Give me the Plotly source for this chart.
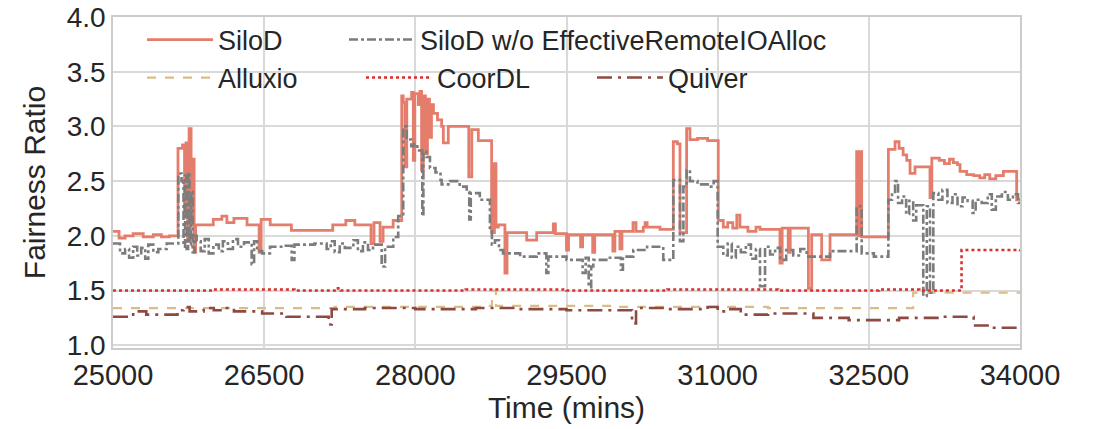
import plotly.graph_objects as go

# ---------------- data ----------------
silod_t = [25000, 25060, 25120, 25200, 25300, 25400, 25480, 25560,
           25645, 25690, 25710, 25725, 25740, 25755, 25775, 25790, 25805, 25820,
           25995, 26080, 26130, 26200, 26330, 26450, 26470, 26560, 26770, 27180, 27310, 27400,
           27560, 27590, 27650, 27680, 27780,
           27865, 27880, 27897, 27915, 27963, 27980, 27995, 28030, 28046, 28062, 28079, 28100,
           28120, 28140, 28160, 28180, 28220, 28261, 28278, 28327, 28530, 28560, 28625,
           28757, 28785, 28800, 28823, 28889, 28910, 29105, 29204, 29369, 29390, 29500, 29520,
           29640, 29660, 29760, 29780, 29960, 29980, 30030, 30050, 30160, 30190, 30262, 30280,
           30300, 30428,
           30560, 30600, 30626, 30692, 30725, 30800, 30900, 31006, 31056, 31100, 31150, 31190,
           31221, 31300, 31380, 31420, 31618, 31640, 31700, 31720, 31883, 31900, 31933, 32032,
           32115, 32379, 32395, 32410, 32429, 32694, 32760, 32800, 32840, 32876, 32909, 32958,
           33107, 33125, 33200, 33250, 33300, 33338, 33380, 33405, 33471, 33540, 33600, 33650,
           33700, 33760, 33835, 33967, 34000]
silod_v = [2.04, 1.98, 2.00, 2.02, 1.99, 2.01, 1.99, 2.00,
           2.80, 2.83, 2.20, 2.85, 1.95, 2.98, 2.10, 2.70, 1.85, 2.10,
           2.15, 2.18, 2.12, 2.16, 2.10, 1.85, 2.15, 2.10, 2.05, 2.10, 2.14, 2.10,
           1.93, 2.12, 1.95, 2.08, 2.14,
           3.28, 3.22, 2.63, 3.25, 3.31, 2.69, 3.30, 3.20, 3.32, 2.60, 3.28, 2.75,
           3.25, 2.90, 3.20, 3.12, 3.06, 3.00, 2.85, 3.00, 2.54, 2.97, 2.87,
           2.03, 2.66, 2.08, 2.10, 1.66, 2.03, 1.96, 2.03, 2.11, 2.02, 1.87, 2.01,
           1.90, 2.01, 1.85, 2.01, 1.86, 2.04, 1.88, 2.04, 2.12, 2.04, 2.08, 2.12,
           2.08, 2.06,
           2.86, 2.84, 2.03, 2.98, 2.88, 2.89, 2.87, 2.14, 2.08, 2.12, 2.07, 2.19,
           2.08, 2.04, 2.08, 2.06, 1.75, 2.07, 1.85, 2.07, 2.07, 1.52, 2.01, 1.78,
           2.01, 2.77, 2.00, 2.77, 1.99, 2.79, 2.86, 2.80, 2.74, 2.69, 2.57, 2.63,
           2.35, 2.71, 2.69, 2.66, 2.70, 2.67, 2.65, 2.59, 2.56, 2.55, 2.53, 2.56,
           2.52, 2.55, 2.59, 2.33, 2.33]

noalloc_t = [25000, 25070, 25120, 25160, 25200, 25240, 25280, 25320, 25350, 25400, 25450, 25533,
             25648, 25680, 25700, 25715, 25730, 25745, 25760, 25775, 25790, 25810, 25830, 25870,
             25910, 25950, 25996, 26050, 26090, 26140, 26190, 26240, 26300, 26376, 26400, 26430,
             26480, 26558, 26700, 26773, 26800, 27000, 27120, 27160, 27200, 27250, 27300, 27385,
             27430, 27480, 27530, 27580, 27666, 27700,
             27781, 27830, 27880, 27914, 27960, 27990, 28020, 28069, 28080, 28110, 28145, 28200,
             28250, 28261, 28344, 28440, 28510, 28535, 28550, 28640, 28740, 28760, 28790, 28830,
             28870, 29040, 29204, 29300, 29320, 29500, 29660, 29690, 29720, 29745, 29766, 29930,
             30040, 30060, 30163, 30300, 30460,
             30560, 30626, 30660, 30692, 30725, 30800, 30900, 30960, 31000, 31056, 31100, 31140,
             31180, 31230, 31280, 31330, 31380, 31420, 31470, 31520, 31570, 31620, 31680, 31750,
             31820, 31883, 32115, 32379, 32429, 32550, 32694, 32730, 32760, 32790, 32830, 32870,
             32900, 32940, 32970, 33040, 33075, 33107, 33140, 33190, 33230, 33280, 33330, 33380,
             33430, 33480, 33530, 33560, 33620, 33680, 33720, 33760, 33820, 33880, 33930, 33980,
             34000]
noalloc_v = [1.93, 1.84, 1.88, 1.80, 1.90, 1.82, 1.89, 1.79, 1.92, 1.85, 1.88, 1.93,
             2.57, 2.50, 1.90, 2.55, 1.88, 2.58, 1.92, 2.40, 1.85, 2.00, 1.95, 1.86,
             1.97, 1.84, 1.92, 1.86, 1.95, 1.88, 1.97, 1.90, 1.94, 1.74, 1.95, 1.86,
             1.84, 1.90, 1.91, 1.78, 1.92, 1.93, 1.88, 1.95, 1.85, 1.93, 1.89, 1.96,
             1.86, 1.94, 1.87, 1.92, 1.72, 1.90,
             1.99, 2.18, 3.00, 2.88, 2.82, 2.84, 2.78, 2.18, 2.77, 2.72, 2.62, 2.58,
             2.51, 2.47, 2.50, 2.45, 2.40, 2.15, 2.39, 2.33, 2.06, 1.92, 1.96, 1.87,
             1.84, 1.81, 1.84, 1.66, 1.81, 1.78, 1.66, 1.80, 1.53, 1.72, 1.78, 1.80,
             1.69, 1.81, 1.87, 1.90, 1.78,
             2.51, 1.95, 2.45, 2.60, 2.50, 2.47, 2.45, 2.50, 1.90, 1.82, 1.93, 1.80,
             1.90, 1.85, 1.92, 1.79, 1.88, 1.54, 1.90, 1.83, 1.89, 1.78, 1.87, 1.82,
             1.88, 1.81, 1.86, 2.27, 1.84, 1.81, 2.33, 2.40, 2.50, 2.30, 2.36, 2.20,
             2.32, 2.14, 2.28, 1.45, 2.27, 1.48, 2.39, 2.33, 2.42, 2.30, 2.38, 2.27,
             2.35, 2.32, 2.21, 2.33, 2.30, 2.38, 2.24, 2.36, 2.40, 2.33, 2.38, 2.30,
             2.30]

alluxio_t = [25000, 26000, 27200, 28700, 28760, 28800, 30000, 31500, 32940, 34000]
alluxio_v = [1.34, 1.34, 1.35, 1.36, 1.50, 1.36, 1.35, 1.34, 1.48, 1.49]

coordl_t = [25000, 26000, 26800, 27200, 27260, 28500, 29500, 30500, 31600, 32600, 33000, 33420, 34000]
coordl_v = [1.50, 1.51, 1.50, 1.52, 1.50, 1.51, 1.50, 1.51, 1.50, 1.51, 1.50, 1.87, 1.86]

quiver_t = [25000, 25200, 25330, 25640, 25700, 25760, 25900, 26000, 26100, 26200, 26480, 26720,
            27140, 27170, 27500, 28000, 28600, 29000, 29500, 30150, 30190, 30500, 30900, 31000,
            31100, 31229, 31500, 31950, 32300, 32800, 33200, 33540, 33700, 34000]
quiver_v = [1.26, 1.31, 1.28, 1.32, 1.35, 1.31, 1.34, 1.32, 1.34, 1.31, 1.29, 1.26,
            1.19, 1.33, 1.34, 1.33, 1.34, 1.33, 1.32, 1.20, 1.34, 1.33, 1.35, 1.31,
            1.33, 1.28, 1.29, 1.25, 1.23, 1.25, 1.26, 1.18, 1.16, 1.17]

x_ticks = [25000, 26500, 28000, 29500, 31000, 32500, 34000]
x_ticktext = ["25000", "26500", "28000", "29500", "31000", "32500", "34000"]
y_ticks = [1.0, 1.5, 2.0, 2.5, 3.0, 3.5, 4.0]
y_ticktext = ["1.0", "1.5", "2.0", "2.5", "3.0", "3.5", "4.0"]

# ---------------- figure ----------------
FONT = "Liberation Sans, Arial, sans-serif"
TXT = "#262626"

fig = go.Figure()
series = [
    ("SiloD", silod_t, silod_v, "#e47d6b", "solid", 2.8, "legend"),
    ("Alluxio", alluxio_t, alluxio_v, "#dcbc86", "dash", 2.2, "legend3"),
    ("SiloD w/o EffectiveRemoteIOAlloc", noalloc_t, noalloc_v, "#7c7c7c", "dashdot", 2.6, "legend2"),
    ("CoorDL", coordl_t, coordl_v, "#dc2e2a", "dot", 2.6, "legend4"),
    ("Quiver", quiver_t, quiver_v, "#8e4a42", "longdashdot", 2.6, "legend5"),
]
for name, t, v, col, dash, w, lg in series:
    fig.add_trace(go.Scatter(x=t, y=v, mode="lines", name=name, legend=lg, showlegend=True,
                             line=dict(color=col, dash=dash, width=w, shape="hv")))

W, H = 1097, 429
PL, PR, PT, PB = 113, 1020, 17, 348
def leg(px, py):
    return dict(x=(px - PL) / (PR - PL), y=(PB - py) / (PB - PT), xref="paper", yref="paper",
                xanchor="left", yanchor="middle", bgcolor="rgba(0,0,0,0)",
                font=dict(family=FONT, size=27, color=TXT), itemwidth=66,
                borderwidth=0)

fig.update_layout(
    width=W, height=H,
    showlegend=True,
    margin=dict(l=PL, r=W - PR, t=PT, b=H - PB, autoexpand=False),
    plot_bgcolor="white", paper_bgcolor="white",
    font=dict(family=FONT, color=TXT),
    legend=leg(142, 40),
    legend2=leg(344, 40),
    legend3=leg(142, 78),
    legend4=leg(361, 78),
    legend5=leg(592, 78),
    xaxis=dict(range=[25000, 34000], tickvals=x_ticks, ticktext=x_ticktext, ticks="",
               tickfont=dict(size=29, family=FONT, color=TXT),
               showgrid=True, gridcolor="#d9d9d9", gridwidth=1.5,
               showline=True, linecolor="#cccccc", linewidth=1.5, mirror=True,
               zeroline=False,
               title=dict(text="Time (mins)", font=dict(size=30, family=FONT, color=TXT), standoff=6)),
    yaxis=dict(range=[0.975, 4.0], tickvals=y_ticks, ticktext=y_ticktext, ticks="",
               tickfont=dict(size=28, family=FONT, color=TXT),
               showgrid=True, gridcolor="#d9d9d9", gridwidth=1.5,
               showline=True, linecolor="#cccccc", linewidth=1.5, mirror=True,
               zeroline=False,
               title=dict(text="Fairness Ratio", font=dict(size=30, family=FONT, color=TXT), standoff=12)),
)

fig.write_html("out.html")
